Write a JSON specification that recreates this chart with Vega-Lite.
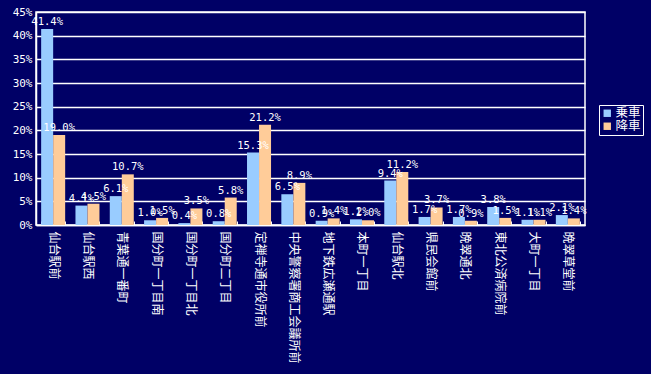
{
  "$schema": "https://vega.github.io/schema/vega-lite/v6.json",
  "autosize": "none",
  "width": 549,
  "height": 213,
  "padding": {"left": 36, "top": 12, "right": 66, "bottom": 149},
  "background": "#000066",
  "config": {
    "view": {"stroke": "white", "strokeWidth": 1.5},
    "font": "DejaVu Sans Mono, Noto Sans CJK JP"
  },
  "data": {
    "values": [
      {"stop": "仙台駅前", "type": "乗車", "v": 41.4},
      {"stop": "仙台駅前", "type": "降車", "v": 19.0},
      {"stop": "仙台駅西", "type": "乗車", "v": 4.1},
      {"stop": "仙台駅西", "type": "降車", "v": 4.5},
      {"stop": "青葉通一番町", "type": "乗車", "v": 6.1},
      {"stop": "青葉通一番町", "type": "降車", "v": 10.7},
      {"stop": "国分町一丁目南", "type": "乗車", "v": 1.0},
      {"stop": "国分町一丁目南", "type": "降車", "v": 1.5},
      {"stop": "国分町一丁目北", "type": "乗車", "v": 0.4},
      {"stop": "国分町一丁目北", "type": "降車", "v": 3.5},
      {"stop": "国分町二丁目", "type": "乗車", "v": 0.8},
      {"stop": "国分町二丁目", "type": "降車", "v": 5.8},
      {"stop": "定禅寺通市役所前", "type": "乗車", "v": 15.3},
      {"stop": "定禅寺通市役所前", "type": "降車", "v": 21.2},
      {"stop": "中央警察署商工会議所前", "type": "乗車", "v": 6.5},
      {"stop": "中央警察署商工会議所前", "type": "降車", "v": 8.9},
      {"stop": "地下鉄広瀬通駅", "type": "乗車", "v": 0.9},
      {"stop": "地下鉄広瀬通駅", "type": "降車", "v": 1.4},
      {"stop": "本町一丁目", "type": "乗車", "v": 1.2},
      {"stop": "本町一丁目", "type": "降車", "v": 1.0},
      {"stop": "仙台駅北", "type": "乗車", "v": 9.4},
      {"stop": "仙台駅北", "type": "降車", "v": 11.2},
      {"stop": "県民会館前", "type": "乗車", "v": 1.7},
      {"stop": "県民会館前", "type": "降車", "v": 3.7},
      {"stop": "晩翠通北", "type": "乗車", "v": 1.7},
      {"stop": "晩翠通北", "type": "降車", "v": 0.9},
      {"stop": "東北公済病院前", "type": "乗車", "v": 3.8},
      {"stop": "東北公済病院前", "type": "降車", "v": 1.5},
      {"stop": "大町一丁目", "type": "乗車", "v": 1.1},
      {"stop": "大町一丁目", "type": "降車", "v": 1.1},
      {"stop": "晩翠草堂前", "type": "乗車", "v": 2.1},
      {"stop": "晩翠草堂前", "type": "降車", "v": 1.4}
    ]
  },
  "transform": [{"calculate": "format(datum.v, '.1f') + '%'", "as": "label"}],
  "encoding": {
    "x": {
      "field": "stop", "type": "nominal", "sort": null,
      "scale": {"paddingInner": 0.3, "paddingOuter": 0.15},
      "axis": {
        "title": null, "labelAngle": 90, "labelAlign": "left", "labelBaseline": "middle",
        "labelColor": "white", "labelFontSize": 12, "labelPadding": 10,
        "labelFont": "Noto Sans CJK JP",
        "domainColor": "white", "domainWidth": 1.5,
        "tickColor": "white", "tickSize": -4, "tickBand": "extent", "labelLimit": 200
      }
    },
    "xOffset": {"field": "type", "type": "nominal", "sort": ["乗車", "降車"]},
    "y": {
      "field": "v", "type": "quantitative",
      "scale": {"domain": [0, 45], "nice": false},
      "axis": {
        "title": null, "values": [0, 5, 10, 15, 20, 25, 30, 35, 40, 45],
        "labelExpr": "datum.value + '%'",
        "labelColor": "white", "labelFontSize": 11, "labelPadding": 4,
        "ticks": false, "domainColor": "white", "domainWidth": 1.5,
        "grid": true, "gridColor": "white", "gridWidth": 1.5, "gridOpacity": 1
      }
    }
  },
  "layer": [
    {
      "mark": {"type": "bar"},
      "encoding": {
        "color": {
          "field": "type", "type": "nominal",
          "scale": {"domain": ["乗車", "降車"], "range": ["#99CCFF", "#FFCC99"]},
          "legend": {
            "title": null, "orient": "none", "legendX": 563, "legendY": 93,
            "symbolType": "square", "symbolSize": 55, "symbolStrokeWidth": 0,
            "labelColor": "white", "labelFontSize": 12.5, "labelFont": "Noto Sans CJK JP",
            "strokeColor": "white", "padding": 2, "rowPadding": 0, "labelOffset": 2
          }
        }
      }
    },
    {
      "mark": {"type": "text", "baseline": "bottom", "dy": -2, "color": "white", "fontSize": 10.5},
      "encoding": {"text": {"field": "label"}}
    }
  ]
}
